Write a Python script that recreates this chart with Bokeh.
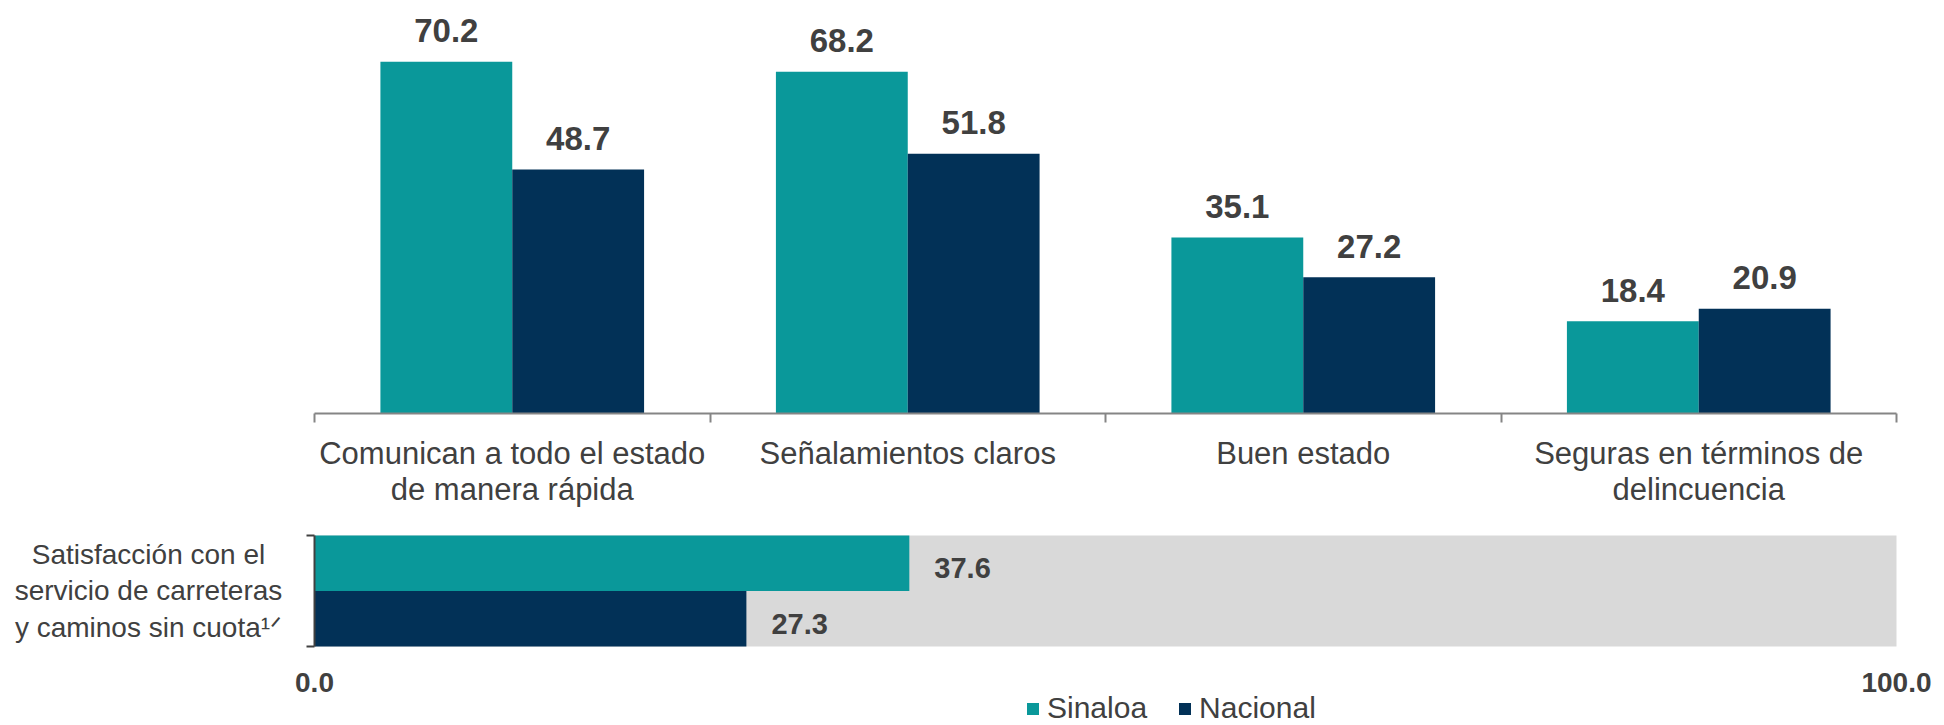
from bokeh.plotting import figure
from bokeh.models import (ColumnDataSource, FixedTicker, Label, Legend, LegendItem,
                          NumeralTickFormatter)
from bokeh.layouts import column
from bokeh.embed import file_html
from bokeh.resources import INLINE
from bokeh.core.properties import value

# ---------------- data ----------------
categories = [
    "Comunican a todo el estado\nde manera rápida",
    "Señalamientos claros",
    "Buen estado",
    "Seguras en términos de\ndelincuencia",
]
sinaloa = [70.2, 68.2, 35.1, 18.4]
nacional = [48.7, 51.8, 27.2, 20.9]
series = ["Sinaloa", "Nacional"]

sat_label = "Satisfacción con el\nservicio de carreteras\ny caminos sin cuota¹ᐟ"
sat_values = [37.6, 27.3]          # Sinaloa, Nacional
sat_scale = [100.0, 100.0]         # full scale (gray background)
x_ticks_bottom = [0, 100]

# ---------------- style ----------------
TEAL = "#0A989A"
NAVY = "#023157"
GRAY_BG = "#D9D9D9"
TXT = "#404040"
AXIS_GRAY = "#858585"
FONT = "Liberation Sans"

W = 1944
X0, X1 = 314, 1896        # pixel extent of the data area (both charts)

# Both frames span the full canvas width so that nothing outside the data
# area is clipped; axes are pinned at the zero lines.

# ---------------- top chart ----------------
n = len(categories)
centers = [i + 0.5 for i in range(n)]
bw = 1 / 3
src = ColumnDataSource(dict(
    xs=[c - bw / 2 for c in centers],
    xn=[c + bw / 2 for c in centers],
    s=sinaloa, nn=nacional,
    sl=[f"{v:.1f}" for v in sinaloa],
    nl=[f"{v:.1f}" for v in nacional],
))

H1 = 515
TOP1 = 8
AXIS_Y1 = 413
YMAX1 = 80.8
ppu1_x = (X1 - X0) / n
ppu1_y = (AXIS_Y1 - TOP1) / YMAX1
p1 = figure(width=W, height=H1,
            x_range=(-X0 / ppu1_x, n + (W - X1) / ppu1_x),
            y_range=(-(H1 - AXIS_Y1) / ppu1_y, YMAX1),
            output_backend="svg", toolbar_location=None, y_axis_location=None,
            min_border_left=0, min_border_right=0,
            min_border_top=TOP1, min_border_bottom=0)
p1.vbar(x="xs", top="s", width=bw, bottom=0, fill_color=TEAL, line_color=None, source=src)
p1.vbar(x="xn", top="nn", width=bw, bottom=0, fill_color=NAVY, line_color=None, source=src)
for xcol, ycol, tcol in (("xs", "s", "sl"), ("xn", "nn", "nl")):
    p1.text(x=xcol, y=ycol, text=tcol, source=src, text_align="center",
            text_baseline="middle", y_offset=-31,
            text_font=value(FONT), text_font_style="bold",
            text_font_size="33px", text_color=TXT)

ax = p1.xaxis[0]
ax.fixed_location = 0
ax.bounds = (0, n)
ax.ticker = FixedTicker(ticks=centers, minor_ticks=list(range(n + 1)))
ax.major_label_overrides = {c: cat for c, cat in zip(centers, categories)}
ax.axis_line_color = AXIS_GRAY
ax.axis_line_width = 2
ax.major_tick_out = 0
ax.major_tick_in = 0
ax.minor_tick_out = 9
ax.minor_tick_in = 0
ax.minor_tick_line_color = AXIS_GRAY
ax.minor_tick_line_width = 2
ax.major_label_text_font = FONT
ax.major_label_text_font_size = "31px"
ax.major_label_text_color = TXT
ax.major_label_text_line_height = 1.05
ax.major_label_standoff = 13
p1.xgrid.visible = False
p1.ygrid.visible = False
p1.outline_line_color = None

# ---------------- bottom chart ----------------
m = len(series)
ys = [m - i - 0.5 for i in range(m)]
H2 = 210
BAR_TOP, BAR_BOT = 535 - H1, 646 - H1
px_per_x = (X1 - X0) / 100.0
px_per_y = (BAR_BOT - BAR_TOP) / m
p2 = figure(width=W, height=H2,
            x_range=(-X0 / px_per_x, 100 + (W - X1) / px_per_x),
            y_range=(-(H2 - BAR_BOT) / px_per_y, m + BAR_TOP / px_per_y),
            output_backend="svg", toolbar_location=None,
            min_border_left=0, min_border_right=0,
            min_border_top=0, min_border_bottom=0)
p2.hbar(y=ys, left=0, right=sat_scale, height=1, fill_color=GRAY_BG, line_color=None)
r_s = p2.hbar(y=[ys[0]], left=0, right=[sat_values[0]], height=1,
              fill_color=TEAL, line_color=None)
r_n = p2.hbar(y=[ys[1]], left=0, right=[sat_values[1]], height=1,
              fill_color=NAVY, line_color=None)
p2.text(x=sat_values, y=ys, text=[f"{v:.1f}" for v in sat_values],
        x_offset=25, y_offset=5, text_align="left", text_baseline="middle",
        text_font=value(FONT), text_font_style="bold", text_font_size="29px",
        text_color=TXT)

bx = p2.xaxis[0]
bx.fixed_location = 0
bx.ticker = FixedTicker(ticks=x_ticks_bottom)
bx.formatter = NumeralTickFormatter(format="0.0")
bx.axis_line_color = None
bx.major_tick_line_color = None
bx.minor_tick_line_color = None
bx.major_tick_out = 0
bx.major_tick_in = 0
bx.major_label_text_font = FONT
bx.major_label_text_font_style = "bold"
bx.major_label_text_font_size = "28px"
bx.major_label_text_color = TXT
bx.major_label_standoff = 26

by = p2.yaxis[0]
by.fixed_location = 0
by.bounds = (0, m)
by.ticker = FixedTicker(ticks=[m / 2], minor_ticks=[0, m])
by.major_label_overrides = {m / 2: ""}
by.axis_line_color = TXT
by.axis_line_width = 2
by.major_tick_line_color = None
by.major_tick_out = 0
by.major_tick_in = 0
by.minor_tick_out = 8
by.minor_tick_in = 0
by.minor_tick_line_color = TXT
by.minor_tick_line_width = 2

p2.add_layout(Label(x=(148 - X0) / px_per_x, y=m / 2, x_units="data", y_units="data",
                    text=sat_label, text_align="center", text_baseline="middle",
                    text_font=FONT, text_font_size="28px", text_color=TXT,
                    text_line_height=1.18))

legend = Legend(items=[LegendItem(label=series[0], renderers=[r_s]),
                       LegendItem(label=series[1], renderers=[r_n])],
                orientation="horizontal", location=(1025, 0),
                border_line_color=None, background_fill_alpha=0,
                padding=0, margin=0, spacing=30,
                glyph_width=15, glyph_height=15, label_standoff=7,
                label_text_font=FONT, label_text_font_size="30px",
                label_text_color=TXT)
p2.add_layout(legend)
p2.xgrid.visible = False
p2.ygrid.visible = False
p2.outline_line_color = None

layout = column(p1, p2, spacing=0)
open("out.html", "w").write(file_html(layout, INLINE))
